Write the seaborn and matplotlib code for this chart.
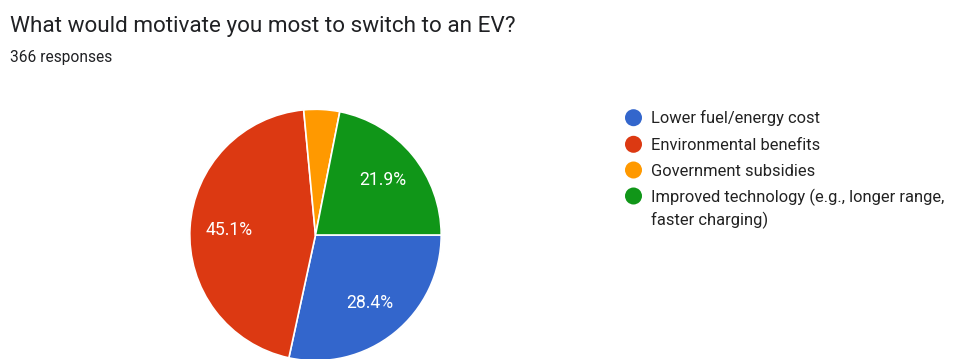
import matplotlib
matplotlib.use("Agg")
import matplotlib.pyplot as plt
import seaborn as sns

title = "What would motivate you most to switch to an EV?"
subtitle = "366 responses"
categories = ["Lower fuel/energy cost", "Environmental benefits", "Government subsidies",
              "Improved technology (e.g., longer range,\nfaster charging)"]
values = [28.4, 45.1, 4.6, 21.9]
colors = ["#3366CC", "#DC3912", "#FF9900", "#109618"]

sns.set_theme(style="white")
plt.rcParams['font.family'] = ['Roboto', 'DejaVu Sans']

W, H = 956, 359
fig = plt.figure(figsize=(W / 100, H / 100), dpi=100)
fig.patch.set_facecolor("white")

# pie axes positioned in pixels
cx, cy, r = 315.5, 235.0, 125.7
ax = fig.add_axes([(cx - r) / W, (H - cy - r) / H, 2 * r / W, 2 * r / H])
ax.set_aspect("equal")

def fmt(p):
    return f"{p:.1f}%" if p >= 5 else ""

wedges, texts, autotexts = ax.pie(
    values, colors=colors, startangle=0, counterclock=False,
    autopct=fmt, pctdistance=0.69, radius=1.0,
    wedgeprops=dict(edgecolor="white", linewidth=1.2),
    textprops=dict(color="white", fontsize=12.7),
)
ax.set_xlim(-1, 1)
ax.set_ylim(-1, 1)
ax.axis("off")

# overlay axes in pixel coordinates for title and legend
ov = fig.add_axes([0, 0, 1, 1], zorder=-1)
ov.set_xlim(0, W)
ov.set_ylim(H, 0)
ov.axis("off")

ov.text(10, 32, title, fontsize=16.2, color="#202124", va="baseline", ha="left")
ov.text(10, 62, subtitle, fontsize=11.2, color="#202124", va="baseline", ha="left")

row_y = [117.7, 144.3, 170.0, 196.0]
line_step = 23.3
for cat, col, y in zip(categories, colors, row_y):
    ov.scatter([633.5], [y], s=150, color=col, edgecolor="none")
    for i, line in enumerate(cat.split("\n")):
        ov.text(651.5, y + 5.8 + i * line_step, line, fontsize=11.85, color="#222222",
                va="baseline", ha="left")

fig.savefig("out.png", dpi=100, facecolor="white")
